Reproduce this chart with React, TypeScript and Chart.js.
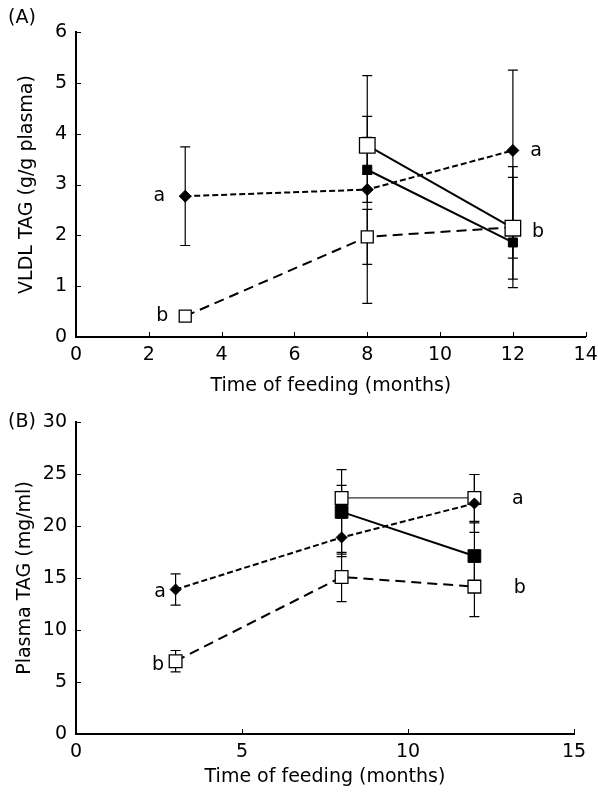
import React, { useEffect, useRef } from 'react';
import { Chart, registerables } from 'chart.js';
Chart.register(...registerables);

const FONT = "'DejaVu Sans', 'Liberation Sans', Arial, sans-serif";

// ---------- Panel A : VLDL TAG ----------
const timesA3 = [3, 8, 12];
const timesA2 = [8, 12];
const vldlA_a = [2.77, 2.9, 3.67];
const vldlA_aErr = [0.97, 2.24, 1.58];
const vldlA_b = [0.41, 1.97, 2.16];
const vldlA_bErr = [0.08, 0.54, 1.19];
const vldlA_open = [3.77, 2.14];
const vldlA_openErr = [0.57, 1.0];
const vldlA_filled = [3.29, 1.86];
const vldlA_filledErr = [0.64, 0.31];
const xTicksA = [0, 2, 4, 6, 8, 10, 12, 14];
const yTicksA = [0, 1, 2, 3, 4, 5, 6];

// ---------- Panel B : Plasma TAG ----------
const timesB3 = [3, 8, 12];
const timesB2 = [8, 12];
const plasmaB_a = [13.9, 18.9, 22.17];
const plasmaB_aErr = [1.5, 1.85, 2.78];
const plasmaB_b = [7.0, 15.1, 14.17];
const plasmaB_bErr = [1.03, 2.37, 2.88];
const plasmaB_open = [22.7, 22.7];
const plasmaB_openErr = [1.2, 2.25];
const plasmaB_filled = [21.36, 17.11];
const plasmaB_filledErr = [4.07, 3.2];
const xTicksB = [0, 5, 10, 15];
const yTicksB = [0, 5, 10, 15, 20, 25, 30];

const labelsA = [
  { text: 'a', x: 2.29, y: 2.78 },
  { text: 'b', x: 2.37, y: 0.41 },
  { text: 'a', x: 12.64, y: 3.65 },
  { text: 'b', x: 12.69, y: 2.06 },
];
const labelsB = [
  { text: 'a', x: 2.53, y: 13.66 },
  { text: 'b', x: 2.47, y: 6.65 },
  { text: 'a', x: 13.31, y: 22.6 },
  { text: 'b', x: 13.37, y: 14.05 },
];

const pts = (xs: number[], ys: number[]) => xs.map((x, i) => ({ x, y: ys[i] }));

const decorPlugin = {
  id: 'decor',
  beforeDatasetsDraw(chart: any) {
    const { ctx, scales: { x, y } } = chart;
    ctx.save();
    ctx.strokeStyle = '#000';
    ctx.lineWidth = 1.2;
    chart.data.datasets.forEach((ds: any) => {
      if (!ds.errors) return;
      ds.data.forEach((p: any, i: number) => {
        const e = ds.errors[i];
        if (!e) return;
        const px = x.getPixelForValue(p.x);
        const t = y.getPixelForValue(p.y + e);
        const b = y.getPixelForValue(p.y - e);
        ctx.beginPath();
        ctx.moveTo(px, t); ctx.lineTo(px, b);
        ctx.moveTo(px - 5, t); ctx.lineTo(px + 5, t);
        ctx.moveTo(px - 5, b); ctx.lineTo(px + 5, b);
        ctx.stroke();
      });
    });
    ctx.restore();
  },
  afterDraw(chart: any, _args: any, opts: any) {
    const { ctx, chartArea, scales: { x, y } } = chart;
    ctx.save();
    ctx.strokeStyle = '#000';
    ctx.lineWidth = 1;
    x.ticks.forEach((t: any) => {
      const px = Math.round(x.getPixelForValue(t.value)) + 0.5;
      ctx.beginPath();
      ctx.moveTo(px, chartArea.bottom);
      ctx.lineTo(px, chartArea.bottom - 5);
      ctx.stroke();
    });
    y.ticks.forEach((t: any) => {
      const py = Math.round(y.getPixelForValue(t.value)) + 0.5;
      ctx.beginPath();
      ctx.moveTo(chartArea.left, py);
      ctx.lineTo(chartArea.left + 5, py);
      ctx.stroke();
    });
    ctx.fillStyle = '#000';
    ctx.textAlign = 'center';
    ctx.textBaseline = 'middle';
    ctx.font = `19px ${FONT}`;
    (opts.labels || []).forEach((l: any) => {
      ctx.fillText(l.text, x.getPixelForValue(l.x), y.getPixelForValue(l.y));
    });
    ctx.fillText(opts.panel, opts.panelX, opts.panelY);
    ctx.fillText(opts.xTitle, (chartArea.left + chartArea.right) / 2, opts.xTitleY);
    ctx.restore();
  },
};

function buildConfig(p: any) {
  return {
    type: 'line',
    data: { datasets: p.datasets },
    plugins: [decorPlugin],
    options: {
      animation: false,
      responsive: false,
      layout: { padding: { top: 32, right: p.padRight, left: 0, bottom: 0 } },
      plugins: {
        legend: { display: false },
        tooltip: { enabled: false },
        decor: {
          labels: p.labels,
          panel: p.panel,
          panelX: 22,
          panelY: 18 + p.panelDy,
          xTitle: 'Time of feeding (months)',
          xTitleY: p.xTitleY,
        },
      },
      scales: {
        x: {
          type: 'linear',
          min: p.xTicks[0],
          max: p.xTicks[p.xTicks.length - 1],
          afterBuildTicks: (s: any) => { s.ticks = p.xTicks.map((v: number) => ({ value: v })); },
          afterFit: (s: any) => { s.height = p.xHeight; s.paddingLeft = 0; s.paddingRight = 0; },
          grid: { display: false, drawTicks: false },
          border: { display: true, color: '#000', width: 2 },
          ticks: { color: '#000', font: { size: 19, family: FONT }, padding: 7, maxRotation: 0, autoSkip: false },
        },
        y: {
          type: 'linear',
          min: p.yTicks[0],
          max: p.yTicks[p.yTicks.length - 1],
          afterBuildTicks: (s: any) => { s.ticks = p.yTicks.map((v: number) => ({ value: v })); },
          afterFit: (s: any) => { s.width = 76; s.paddingTop = 0; s.paddingBottom = 0; },
          grid: { display: false, drawTicks: false },
          border: { display: true, color: '#000', width: 2 },
          ticks: { color: '#000', font: { size: 19, family: FONT }, padding: 9, autoSkip: false },
          title: {
            display: true,
            text: p.yTitle,
            color: '#000',
            font: { size: 19, family: FONT },
            padding: { top: p.yTitlePad, bottom: 0 },
          },
        },
      },
    },
  };
}

const common = { fill: false, tension: 0, borderColor: '#000', pointBorderColor: '#000', pointHoverRadius: 0 };

function datasetsA() {
  return [
    { ...common, data: pts(timesA3, vldlA_a), errors: vldlA_aErr, pointStyle: 'rectRot', pointRadius: 6, pointBackgroundColor: '#000', pointBorderWidth: 1, borderWidth: 2, borderDash: [6, 3] },
    { ...common, data: pts(timesA2, vldlA_open), errors: vldlA_openErr, pointStyle: 'rect', pointRadius: 11, pointBackgroundColor: '#fff', pointBorderWidth: 1.3, borderWidth: 2 },
    { ...common, data: pts(timesA2, vldlA_filled), errors: vldlA_filledErr, pointStyle: 'rect', pointRadius: 6.4, pointBackgroundColor: '#000', pointBorderWidth: 1, borderWidth: 2 },
    { ...common, data: pts(timesA3, vldlA_b), errors: vldlA_bErr, pointStyle: 'rect', pointRadius: 8.5, pointBackgroundColor: '#fff', pointBorderWidth: 1.3, borderWidth: 2, borderDash: [10, 6] },
  ];
}

function datasetsB() {
  return [
    { ...common, data: pts(timesB3, plasmaB_a), errors: plasmaB_aErr, pointStyle: 'rectRot', pointRadius: 5.5, pointBackgroundColor: '#000', pointBorderWidth: 1, borderWidth: 2, borderDash: [6, 3] },
    { ...common, data: pts(timesB2, plasmaB_open), errors: plasmaB_openErr, pointStyle: 'rect', pointRadius: 9, pointBackgroundColor: '#fff', pointBorderWidth: 1.3, borderWidth: 1 },
    { ...common, data: pts(timesB2, plasmaB_filled), errors: plasmaB_filledErr, pointStyle: 'rect', pointRadius: 9, pointBackgroundColor: '#000', pointBorderWidth: 1, borderWidth: 2 },
    { ...common, data: pts(timesB3, plasmaB_b), errors: plasmaB_bErr, pointStyle: 'rect', pointRadius: 9, pointBackgroundColor: '#fff', pointBorderWidth: 1.3, borderWidth: 2, borderDash: [10, 6] },
  ];
}

export default function App() {
  const refA = useRef<HTMLCanvasElement>(null);
  const refB = useRef<HTMLCanvasElement>(null);

  useEffect(() => {
    Chart.defaults.font.family = FONT;
    Chart.defaults.color = '#000';
    const a = new Chart(refA.current as any, buildConfig({
      datasets: datasetsA(),
      labels: labelsA,
      panel: '(A)',
      panelDy: 0,
      padRight: 8,
      xTicks: xTicksA,
      yTicks: yTicksA,
      xHeight: 63,
      yTitle: 'VLDL TAG (g/g plasma)',
      yTitlePad: 15.6,
      xTitleY: 386,
    }) as any);
    const b = new Chart(refB.current as any, buildConfig({
      datasets: datasetsB(),
      labels: labelsB,
      panel: '(B)',
      panelDy: 14,
      padRight: 24,
      xTicks: xTicksB,
      yTicks: yTicksB,
      xHeight: 59,
      yTitle: 'Plasma TAG (mg/ml)',
      yTitlePad: 13.6,
      xTitleY: 387,
    }) as any);
    return () => { a.destroy(); b.destroy(); };
  }, []);

  return (
    <div style={{ position: 'absolute', left: 0, top: 0, width: 598, height: 793, overflow: 'hidden', background: '#fff' }}>
      <canvas ref={refA} width={598} height={400} style={{ position: 'absolute', left: 0, top: 0, width: 598, height: 400 }} />
      <canvas ref={refB} width={598} height={403} style={{ position: 'absolute', left: 0, top: 390, width: 598, height: 403 }} />
    </div>
  );
}
